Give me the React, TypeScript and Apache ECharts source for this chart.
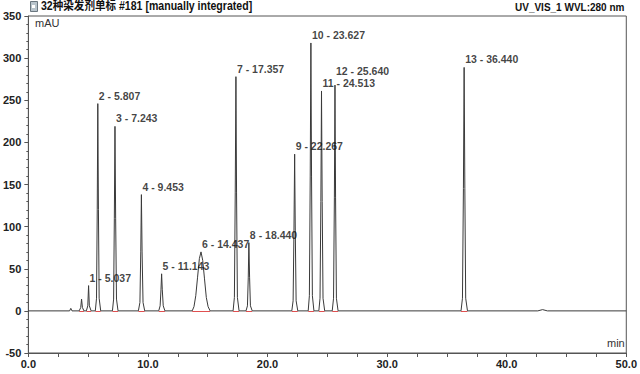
import React, { useEffect, useRef } from "react";
import * as echarts from "echarts";

// Chromatogram trace: [minutes, mAU]
const trace: [number, number][] = [
  [0, 0], [3.45, 0], [3.55, 3], [3.65, 0],
  [4.25, 0], [4.38, 4], [4.45, 14], [4.52, 4], [4.65, 0],
  [4.85, 0], [4.97, 6], [5.037, 30], [5.1, 6], [5.25, 0],
  [5.6, 0], [5.7, 15], [5.76, 120], [5.807, 246], [5.86, 120], [5.92, 15], [6.05, 0],
  [7.03, 0], [7.13, 14], [7.19, 110], [7.243, 219], [7.3, 110], [7.37, 14], [7.5, 0],
  [9.2, 0], [9.33, 10], [9.4, 70], [9.453, 138], [9.51, 70], [9.59, 10], [9.73, 0],
  [10.9, 0], [11.02, 6], [11.09, 25], [11.143, 44], [11.2, 25], [11.28, 6], [11.42, 0],
  [13.7, 0], [13.85, 5], [14.0, 18], [14.15, 40], [14.3, 62], [14.437, 70], [14.58, 60], [14.73, 38], [14.88, 16], [15.03, 5], [15.2, 0],
  [17.12, 0], [17.23, 16], [17.3, 140], [17.357, 278], [17.41, 140], [17.48, 16], [17.62, 0],
  [18.2, 0], [18.32, 6], [18.39, 40], [18.44, 81], [18.5, 40], [18.57, 6], [18.72, 0],
  [22.03, 0], [22.14, 12], [22.21, 95], [22.267, 186], [22.32, 95], [22.39, 12], [22.53, 0],
  [23.4, 0], [23.5, 18], [23.57, 160], [23.627, 318], [23.68, 160], [23.75, 18], [23.88, 0],
  [24.29, 0], [24.39, 15], [24.46, 130], [24.513, 261], [24.57, 130], [24.64, 15], [24.78, 0],
  [25.41, 0], [25.52, 15], [25.59, 135], [25.64, 268], [25.69, 135], [25.76, 15], [25.9, 0],
  [36.18, 0], [36.3, 15], [36.38, 145], [36.44, 289], [36.5, 145], [36.57, 15], [36.72, 0],
  [42.6, 0], [43.0, 1.5], [43.4, 0],
  [50, 0],
];

// Labelled peaks
const peakNumbers = [1, 2, 3, 4, 5, 6, 7, 8, 9, 10, 11, 12, 13];
const peakTimes = [5.037, 5.807, 7.243, 9.453, 11.143, 14.437, 17.357, 18.44, 22.267, 23.627, 24.513, 25.64, 36.44];
const peakHeights = [30, 246, 219, 138, 44, 70, 278, 81, 186, 318, 261, 268, 289];

// Integration baselines (start, end) in minutes
const baseStarts = [4.25, 4.85, 5.6, 7.03, 9.2, 10.9, 13.7, 17.12, 18.2, 22.03, 23.4, 24.29, 25.41, 36.18];
const baseEnds = [4.65, 5.25, 6.05, 7.5, 9.73, 11.42, 15.2, 17.62, 18.72, 22.53, 23.88, 24.78, 25.9, 36.72];

const yTicks = { min: -50, max: 350, interval: 50 };
const xTicks = { min: 0, max: 50, interval: 10 };

const titleLeft = "32种染发剂单标 #181 [manually integrated]";
const titleRight = "UV_VIS_1 WVL:280 nm";

const FONT = "'Liberation Sans', Arial, sans-serif";

export default function App() {
  const ref = useRef<HTMLDivElement>(null);
  useEffect(() => {
    if (!ref.current) return;
    const chart = echarts.init(ref.current, undefined, { renderer: "svg" });
    const labelData = peakTimes.map((t, i) => ({
      value: [t, peakHeights[i]],
      name: `${peakNumbers[i]} - ${t.toFixed(3)}`,
      label: peakNumbers[i] === 12 ? { distance: 8 } : undefined,
    }));
    const baseLines = baseStarts.map((s, i) => [
      { coord: [s, 0] },
      { coord: [baseEnds[i], 0] },
    ]);
    chart.setOption({
      animation: false,
      backgroundColor: "#ffffff",
      grid: {
        left: 28,
        right: 12,
        top: 16,
        bottom: 21,
        show: true,
        borderColor: "#555",
        borderWidth: 1,
        backgroundColor: "transparent",
      },
      xAxis: {
        type: "value",
        min: xTicks.min,
        max: xTicks.max,
        interval: xTicks.interval,
        axisLine: { show: true, onZero: false, lineStyle: { color: "#555", width: 1 } },
        axisTick: { show: true, inside: false, length: 4, lineStyle: { color: "#555" } },
        minorTick: { show: true, splitNumber: 4, length: 4, lineStyle: { color: "#555" } },
        splitLine: { show: false },
        axisLabel: {
          margin: 5,
          fontFamily: FONT,
          fontWeight: "bold",
          fontSize: 11,
          color: "#222",
          formatter: (v: number) => v.toFixed(1),
        },
      },
      yAxis: {
        type: "value",
        min: yTicks.min,
        max: yTicks.max,
        interval: yTicks.interval,
        axisLine: { show: true, onZero: false, lineStyle: { color: "#555", width: 1 } },
        axisTick: { show: true, inside: false, length: 4, lineStyle: { color: "#555" } },
        minorTick: { show: true, splitNumber: 5, length: 2, lineStyle: { color: "#555" } },
        splitLine: { show: false },
        axisLabel: {
          margin: 7,
          fontFamily: FONT,
          fontWeight: "bold",
          fontSize: 11,
          color: "#222",
        },
      },
      series: [
        {
          type: "line",
          data: trace,
          showSymbol: false,
          symbol: "none",
          lineStyle: { color: "#3a3a3a", width: 1 },
          z: 3,
          markLine: {
            silent: true,
            symbol: "none",
            label: { show: false },
            lineStyle: { color: "#e05050", width: 1, type: "solid" },
            data: baseLines,
            z: 2,
          },
        },
        {
          type: "scatter",
          data: labelData,
          symbolSize: 1,
          itemStyle: { color: "transparent" },
          z: 5,
          label: {
            show: true,
            position: "top",
            distance: 2,
            align: "left",
            offset: [1, 0],
            formatter: (p: any) => p.name,
            fontFamily: FONT,
            fontWeight: "bold",
            fontSize: 10.5,
            color: "#111",
          },
        },
      ],
      graphic: [
        {
          type: "rect",
          left: 30,
          top: 1,
          shape: { width: 7, height: 10 },
          style: { fill: "#b8c4cc", stroke: "#6b7780", lineWidth: 1 },
        },
        {
          type: "rect",
          left: 32,
          top: 5,
          shape: { width: 3, height: 3 },
          style: { fill: "#ffffff" },
        },
        {
          type: "text",
          x: 41,
          y: 0,
          scaleX: 0.88,
          style: {
            text: titleLeft,
            fontFamily: "'Liberation Sans', 'Noto Sans CJK SC', sans-serif",
            fontWeight: "bold",
            fontSize: 12,
            fill: "#111",
            verticalAlign: "top",
          },
        },
        {
          type: "text",
          x: 515,
          y: 1,
          scaleX: 0.91,
          style: {
            text: titleRight,
            fontFamily: FONT,
            fontWeight: "bold",
            fontSize: 11,
            fill: "#111",
            verticalAlign: "top",
          },
        },
        {
          type: "text",
          left: 35,
          top: 17,
          style: { text: "mAU", fontFamily: FONT, fontSize: 11, fill: "#333" },
        },
        {
          type: "text",
          left: 607,
          top: 337,
          style: { text: "min", fontFamily: FONT, fontSize: 11, fill: "#333" },
        },
      ],
    });
    return () => chart.dispose();
  }, []);
  return (
    <div
      ref={ref}
      style={{ position: "fixed", left: 0, top: 0, width: 640, height: 374 }}
    />
  );
}
